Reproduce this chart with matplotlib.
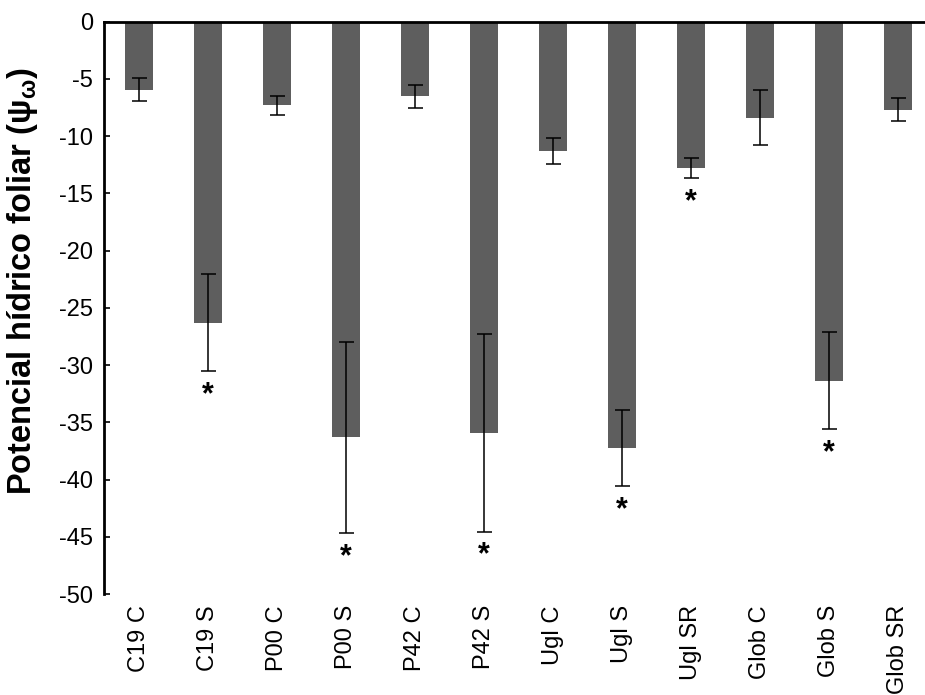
import matplotlib
matplotlib.use('Agg')
import matplotlib.pyplot as plt

# Leaf water potential per treatment (mean and error)
labels = ['C19 C', 'C19 S', 'P00 C', 'P00 S', 'P42 C', 'P42 S',
          'Ugl C', 'Ugl S', 'Ugl SR', 'Glob C', 'Glob S', 'Glob SR']
means = [-5.95, -26.3, -7.3, -36.3, -6.5, -35.9,
         -11.3, -37.25, -12.8, -8.4, -31.35, -7.7]
errors = [1.0, 4.25, 0.85, 8.35, 1.0, 8.65,
          1.15, 3.35, 0.87, 2.4, 4.25, 1.0]
# bars that carry a significance asterisk
signif = [False, True, False, True, False, True,
          False, True, True, False, True, False]

BAR_COLOR = '#5e5e5e'

plt.rcParams['font.family'] = ['Liberation Sans', 'DejaVu Sans']
plt.rcParams['axes.unicode_minus'] = False
plt.rcParams['mathtext.fontset'] = 'custom'
plt.rcParams['mathtext.rm'] = 'Liberation Sans'
plt.rcParams['mathtext.it'] = 'Liberation Sans:italic'
plt.rcParams['mathtext.bf'] = 'Liberation Sans:bold'

fig = plt.figure(figsize=(9.25, 6.95), dpi=100)
ax = fig.add_axes([0.1124, 0.1453, 0.8876, 0.8235])

x = list(range(len(labels)))
ax.bar(x, means, width=0.41, color=BAR_COLOR, zorder=2)
ax.errorbar(x, means, yerr=errors, fmt='none', ecolor='black',
            elinewidth=1.1, capsize=5.4, capthick=1.1, zorder=3)

for xi, m, e, s in zip(x, means, errors, signif):
    if s:
        ax.text(xi, m - e - 2.1, '*', ha='center', va='center',
                fontsize=22, fontweight='bold', zorder=4)

ax.set_xlim(-0.507, 11.39)
ax.set_ylim(-50, 0)
ax.set_yticks(range(-50, 1, 5))
ax.set_xticks(x)
ax.set_xticklabels(labels, rotation=90, fontsize=17)
ax.tick_params(axis='y', direction='in', length=4, width=1.2,
               labelsize=17, pad=8)
ax.tick_params(axis='x', direction='in', length=5, width=1.5,
               top=True, bottom=False, labeltop=False, labelbottom=True,
               pad=8)

for side in ('right', 'bottom'):
    ax.spines[side].set_visible(False)
for side in ('left', 'top'):
    ax.spines[side].set_linewidth(2)

ax.set_ylabel(r'Potencial hídrico foliar ($\mathbf{\psi_\omega}$)',
              fontsize=23.5, fontweight='bold')
ax.yaxis.set_label_coords(-0.078, 0.547)

fig.savefig('out.png', dpi=100)
